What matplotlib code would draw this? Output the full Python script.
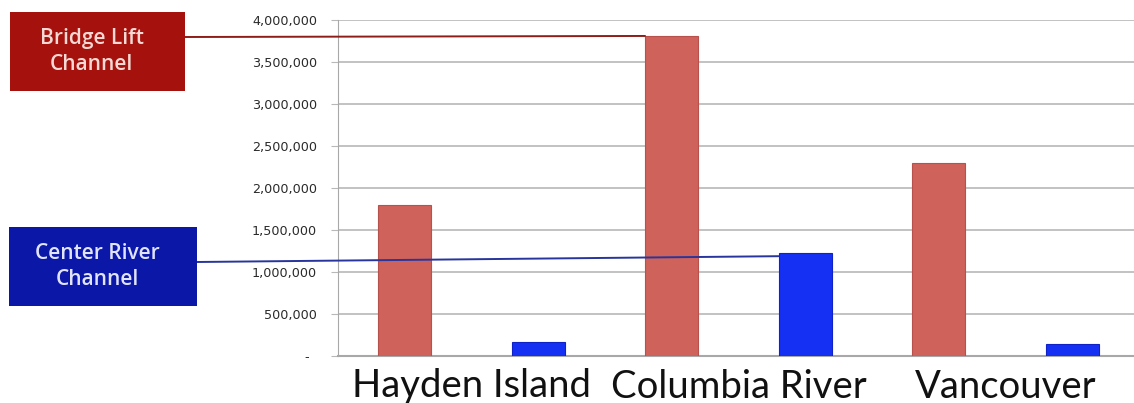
import matplotlib
matplotlib.use('Agg')
import matplotlib.pyplot as plt
from matplotlib.patches import Rectangle, ConnectionPatch
from matplotlib.ticker import FuncFormatter, MultipleLocator
import numpy as np

# crossings per location, two channel types
locations = ['Hayden Island', 'Columbia River', 'Vancouver']
bridge_lift = [1800000, 3810000, 2300000]
center_river = [170000, 1225000, 140000]

RED = '#cf625b'
BLUE = '#1530f2'
BOX_RED = '#a5110c'
BOX_BLUE = '#0b17a6'
GRID = '#b8b8b8'

W, H = 1134, 403
fig = plt.figure(figsize=(W / 100, H / 100), dpi=100)
ax = fig.add_axes([338 / W, (H - 356) / H, 801 / W, 336 / H])

x = np.arange(len(locations))
bar_w = 0.2
ax.bar(x - 0.25, bridge_lift, bar_w, color=RED, edgecolor='#b8514b', linewidth=0.8, zorder=3)
ax.bar(x + 0.25, center_river, bar_w, color=BLUE, edgecolor='#0e22c8', linewidth=0.8, zorder=3)

ax.set_xlim(-0.5, 2.5)
ax.set_ylim(0, 4000000)
ax.yaxis.set_major_locator(MultipleLocator(500000))
ax.yaxis.set_major_formatter(FuncFormatter(lambda v, p: '-  ' if v == 0 else f'{v:,.0f}'))
ax.grid(axis='y', color=GRID, linewidth=1.2, zorder=0)
ax.set_axisbelow(True)

for s in ['top', 'right']:
    ax.spines[s].set_visible(False)
ax.spines['left'].set_color('#a8a8a8')
ax.spines['bottom'].set_color('#a8a8a8')
ax.spines['bottom'].set_linewidth(1.5)

ax.tick_params(axis='y', length=5, color=GRID, pad=10, labelsize=9.2, labelcolor='#2a2a2a')
ax.tick_params(axis='x', length=0, pad=9)
ax.set_xticks(x)
ax.set_xticklabels(locations, fontsize=27.5, family='Lato', color='#111111')

# callout boxes with leader lines to the Columbia River bars
boxes = [
    ('Bridge Lift\nChannel', BOX_RED, '#f6d9d4', (10, 12, 175, 79), 37,
     (x[1] - 0.25 - bar_w / 2, bridge_lift[1]), '#8e1d19'),
    ('Center River\nChannel', BOX_BLUE, '#e0e4ff', (9, 227, 188, 79), 262,
     (x[1] + 0.25 - bar_w / 2, center_river[1] * 0.97), '#27359c'),
]
for label, face, tc, (bx, by, bw, bh), ly, end, lc in boxes:
    fig.patches.append(Rectangle((bx / W, (H - by - bh) / H), bw / W, bh / H,
                                 transform=fig.transFigure, facecolor=face,
                                 edgecolor='none', zorder=5))
    fig.text((bx + bw / 2 - 6) / W, (H - by - bh / 2) / H, label, ha='center', va='center',
             color=tc, fontsize=15, family='Open Sans', fontweight='semibold',
             linespacing=1.3, zorder=6)
    con = ConnectionPatch(xyA=((bx + bw) / W, (H - ly) / H), coordsA=fig.transFigure,
                          xyB=end, coordsB=ax.transData, color=lc, linewidth=1.4, zorder=4)
    fig.add_artist(con)

fig.savefig('out.png', dpi=100)
